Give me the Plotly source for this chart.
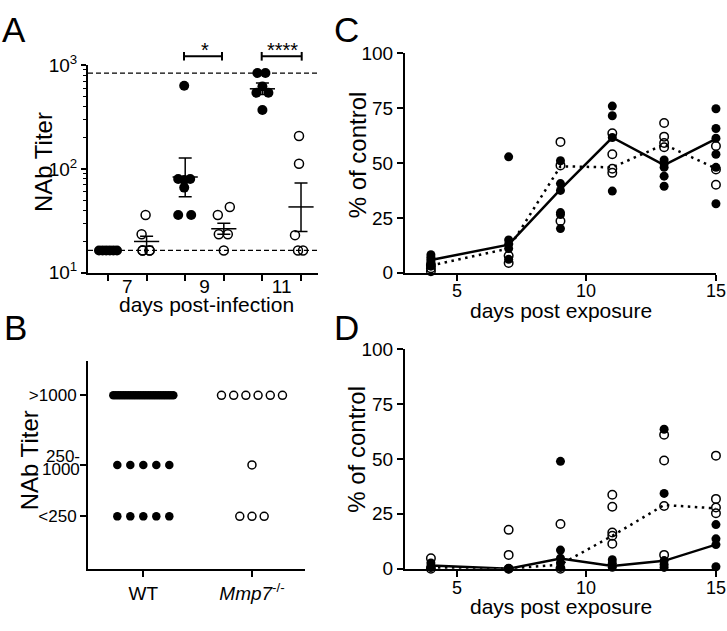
import plotly.graph_objects as go

W, H = 727, 631
FONT = "Liberation Sans, Arial, sans-serif"

# ---------------- DATA ----------------
# Panel A: NAb titer (log) by day; WT = filled, Mmp7-/- = open
A_day_labels = ["7", "9", "11"]
A_wt_d7 = [16.4, 16.4, 16.4, 16.4, 16.4, 16.4]
A_ko_d7 = [36, 23.5, 16.4, 16.4, 16.4, 16.4]
A_wt_d9 = [630, 80, 80, 78, 66, 36, 36]
A_ko_d9 = [36, 43, 23.5, 23.5, 16.4]
A_wt_d11 = [836, 836, 620, 540, 540, 369]
A_ko_d11 = [207, 112, 23, 16.4, 16.4]
A_center = [16.4, 20, 83.5, 26.5, 590, 43]
A_upper = [16.4, 22.5, 127, 30, 670, 73]
A_lower = [16.4, 18, 54, 23.5, 520, 25]
A_limits = [16.4, 836]
A_sig = ["*", "****"]

# Panel B: NAb titer categories, counts of animals
B_levels = [">1000", "250-1000", "<250"]
B_groups = ["WT", "Mmp7-/-"]
B_wt_counts = [25, 5, 5]
B_ko_counts = [6, 1, 3]

# Panels C & D: % of control by day post exposure
days = [4, 7, 9, 11, 13, 15]
day_ticks = [5, 10, 15]
C_wt = [[8.2, 7, 6, 5, 4, 3], [52.8, 14.9, 13, 11, 6.1], [51, 40.6, 37.5, 27.4, 26.5, 20.1],
        [75.9, 71.5, 61.6, 37.2], [51.4, 49.6, 48, 44, 39.4], [74.7, 65.7, 61.3, 54, 48, 31.4]]
C_ko = [[0.7, 2, 3.5], [7.7, 4.4], [59.6, 48.9, 23.6],
        [63.5, 54, 47.4, 45.5], [68.2, 62, 59.1, 57.2], [57.7, 47, 40.1]]
C_wt_line = [5.8, 12.8, 38, 61.6, 49, 61]
C_ko_line = [3.3, 11, 48.5, 48, 58.4, 47.5]

D_wt = [[2.6, 1.2, 0.5], [0, 0], [48.9, 8.5, 4.8, 2.6, 0.5],
        [4.1, 2.5, 0.7], [63.5, 34.3, 3.7, 1.9, 0.6], [20.1, 13.6, 11, 0.9]]
D_ko = [[4.8, 0], [17.7, 6.3, 0], [20.4, 0],
        [33.7, 28.2, 16.5, 15, 11.4], [61, 49.3, 28.6, 6.3], [51.5, 31.8, 27.9, 25.3]]
D_wt_line = [1.5, 0, 4.7, 1.2, 3.6, 11]
D_ko_line = [0.5, 0, 1.9, 15, 29, 27.5]

# ---------------- LAYOUT HELPERS ----------------
def fx(p):
    return p / W

def fy(p):
    return 1 - p / H

# horizontal jitter (pixels) of each point in panel A, per group
A_jit = [[-9, -5.4, -1.8, 1.8, 5.4, 9], [-1, -5, -4, 3, -4, 3], [-1, -7, 5, -1, -1, -7, 6],
         [-6, 6, -5, 4, 0], [-5, 3, 0, -6, 6, 0], [-2, -2, -6, -3, 2]]
A_PX_PER_UNIT = 38.6
B_PX_PER_UNIT = 108.7
B_level_pos = [0.835, 0.5, 0.253]
CD_X0, CD_X1 = 405, 716   # pixel extent of the C / D x axes (day 3 .. day 15)

FILLED = dict(color="black", size=10, symbol="circle", line=dict(width=0))
OPEN = dict(color="black", size=9, symbol="circle-open", line=dict(width=1.5, color="black"))

fig = go.Figure()

# ---- Panel A ----
A_groups = [A_wt_d7, A_ko_d7, A_wt_d9, A_ko_d9, A_wt_d11, A_ko_d11]
for gi, vals in enumerate(A_groups):
    xs = [gi + j / A_PX_PER_UNIT for j in A_jit[gi][:len(vals)]]
    fig.add_trace(go.Scatter(x=xs, y=vals, mode="markers", xaxis="x", yaxis="y",
                             marker=FILLED if gi % 2 == 0 else OPEN, cliponaxis=False,
                             showlegend=False, hoverinfo="skip"))
fig.add_trace(go.Scatter(
    x=list(range(6)), y=A_center, mode="markers", xaxis="x", yaxis="y", cliponaxis=False,
    marker=dict(symbol="line-ew", size=18, color="black", line=dict(width=1.5, color="black")),
    error_y=dict(type="data", symmetric=False,
                 array=[u - c for u, c in zip(A_upper, A_center)],
                 arrayminus=[c - l for c, l in zip(A_center, A_lower)],
                 color="black", thickness=1.5, width=6.5),
    showlegend=False, hoverinfo="skip"))
for v in A_limits:
    fig.add_trace(go.Scatter(x=[-0.518, 5.44], y=[v, v], mode="lines", xaxis="x", yaxis="y",
                             line=dict(color="black", width=1.2, dash="5px,3px"),
                             showlegend=False, hoverinfo="skip"))

# ---- Panel B ----
def spread(n, center, max_step, width):
    step = max_step if n < 2 else min(max_step, width / (n - 1))
    return [center + (i - (n - 1) / 2) * step / B_PX_PER_UNIT for i in range(n)]

for li, n in enumerate(B_wt_counts):
    fig.add_trace(go.Scatter(x=spread(n, 0, 13, 60), y=[B_level_pos[li]] * n, mode="markers",
                             xaxis="x2", yaxis="y2", cliponaxis=False,
                             marker=dict(color="black", size=8.5, symbol="circle"),
                             showlegend=False, hoverinfo="skip"))
for li, n in enumerate(B_ko_counts):
    fig.add_trace(go.Scatter(x=spread(n, 1, 12.2, 62), y=[B_level_pos[li]] * n, mode="markers",
                             xaxis="x2", yaxis="y2", cliponaxis=False,
                             marker=dict(color="black", size=8, symbol="circle-open",
                                         line=dict(width=1.5, color="black")),
                             showlegend=False, hoverinfo="skip"))

# ---- Panels C & D ----
for (wt, ko, wl, kl, xa, ya) in [(C_wt, C_ko, C_wt_line, C_ko_line, "x3", "y3"),
                                  (D_wt, D_ko, D_wt_line, D_ko_line, "x4", "y4")]:
    fig.add_trace(go.Scatter(x=days, y=kl, mode="lines", xaxis=xa, yaxis=ya,
                             line=dict(color="black", width=2.5, dash="2.5px,4.5px"),
                             showlegend=False, hoverinfo="skip"))
    fig.add_trace(go.Scatter(x=days, y=wl, mode="lines", xaxis=xa, yaxis=ya,
                             line=dict(color="black", width=2.5),
                             showlegend=False, hoverinfo="skip"))
    xs, ys = [], []
    for d, vals in zip(days, wt):
        xs += [d] * len(vals)
        ys += vals
    fig.add_trace(go.Scatter(x=xs, y=ys, mode="markers", xaxis=xa, yaxis=ya, cliponaxis=False,
                             marker=dict(color="black", size=9, symbol="circle"),
                             showlegend=False, hoverinfo="skip"))
    xs, ys = [], []
    for d, vals in zip(days, ko):
        xs += [d] * len(vals)
        ys += vals
    fig.add_trace(go.Scatter(x=xs, y=ys, mode="markers", xaxis=xa, yaxis=ya, cliponaxis=False,
                             marker=dict(color="black", size=8.5, symbol="circle-open",
                                         line=dict(width=1.5, color="black")),
                             showlegend=False, hoverinfo="skip"))

# ---------------- AXES ----------------
TF = dict(family=FONT, size=19, color="black")
base = dict(showline=True, linecolor="black", linewidth=2, ticks="outside", tickcolor="black",
            tickwidth=2, ticklen=6, showgrid=False, zeroline=False, tickfont=TF,
            layer="below traces", fixedrange=True)

minor_log = [m * 10 ** e for e in (1, 2) for m in range(2, 10)]
CD_X = [fx(CD_X0), fx(CD_X1)]

fig.update_layout(
    width=W, height=H, margin=dict(l=0, r=0, t=0, b=0),
    paper_bgcolor="white", plot_bgcolor="white", showlegend=False,
    xaxis=dict(base, domain=[fx(88), fx(318)], range=[-0.518, 5.44], anchor="y",
               tickmode="array", tickvals=[0.5, 2.5, 4.5], ticktext=A_day_labels, ticks="",
               ticklabelstandoff=-5,
               minor=dict(tickmode="array", tickvals=[0, 1, 2, 3, 4, 5], ticks="outside",
                          ticklen=6, tickwidth=2, tickcolor="black")),
    yaxis=dict(base, type="log", domain=[fy(270), fy(54)], range=[1, 3.0005], anchor="x",
               tickmode="array", tickvals=[10, 100, 1000],
               ticktext=["10<sup>1</sup>", "10<sup>2</sup>", "10<sup>3</sup>"], ticklen=5,
               minor=dict(tickmode="array", tickvals=minor_log, ticks="outside",
                          ticklen=3, tickwidth=1, tickcolor="black")),
    xaxis2=dict(base, domain=[fx(88), fx(305)], range=[-0.509, 1.488], anchor="y2",
                tickmode="array", tickvals=[0, 1],
                ticktext=["WT", "<i>Mmp7</i><sup>-/-</sup>"]),
    yaxis2=dict(base, domain=[fy(578), fy(361.7)], range=[0, 1], anchor="x2",
                tickmode="array", tickvals=B_level_pos, ticktext=[">1000", "", "<250"],
                tickfont=dict(family=FONT, size=17, color="black")),
    xaxis3=dict(base, domain=CD_X, range=[3, 15.002], anchor="y3",
                tickmode="array", tickvals=day_ticks, showticklabels=False),
    yaxis3=dict(base, domain=[fy(270), fy(41.7)], range=[0, 100.05], anchor="x3",
                tickmode="array", tickvals=[0, 25, 50, 75, 100]),
    xaxis4=dict(base, domain=CD_X, range=[3, 15.002], anchor="y4",
                tickmode="array", tickvals=day_ticks, showticklabels=False),
    yaxis4=dict(base, domain=[fy(577.7), fy(349.3)], range=[0, 100.05], anchor="x4",
                tickmode="array", tickvals=[0, 25, 50, 75, 100]),
)

# ---------------- SHAPES (significance brackets) ----------------
shapes = []
for (x0, x1) in [(184, 222), (261.7, 301.7)]:
    shapes.append(dict(type="line", xref="paper", yref="paper", x0=fx(x0), x1=fx(x1),
                       y0=fy(45), y1=fy(45), line=dict(color="black", width=2)))
    for xx in (x0, x1):
        shapes.append(dict(type="line", xref="paper", yref="paper", x0=fx(xx), x1=fx(xx),
                           y0=fy(40.5), y1=fy(49.5), line=dict(color="black", width=2)))
fig.update_layout(shapes=shapes)

# ---------------- ANNOTATIONS ----------------
def ann(text, x, y, size, angle=0, xanchor="center"):
    return dict(text=text, x=fx(x), y=fy(y), xref="paper", yref="paper", showarrow=False,
                xanchor=xanchor, yanchor="middle", textangle=angle,
                font=dict(family=FONT, size=size, color="black"))

anns = [
    ann("A", 13.5, 17.5, 35), ann("B", 15, 326.5, 35),
    ann("C", 346.5, 17.5, 35), ann("D", 346.5, 326.5, 35),
    ann("NAb Titer", 43, 155, 24, -90),
    ann("days post-infection", 206.5, 303, 21),
    ann("NAb Titer", 29, 465, 24, -90),
    ann("% of control", 357, 148, 24, -90),
    ann("days post exposure", 561, 309, 21),
    ann("% of control", 357, 454, 24, -90),
    ann("days post exposure", 561, 616.5, 21),
    ann(A_sig[0], 205, 38, 20), ann(A_sig[1], 282, 38, 20),
    ann("250-", 82, 461, 17, xanchor="right"),
    ann("1000", 82, 475, 17, xanchor="right"),
]
# x tick labels of C and D, placed on the axis scale (day -> pixel)
for d in day_ticks:
    xpx = CD_X0 + (d - 3) / 12.002 * (CD_X1 - CD_X0)
    for ypx in (289, 598):
        a = dict(text=str(d), x=d, y=fy(ypx), xref="x3", yref="paper", showarrow=False,
                 xanchor="center", yanchor="middle",
                 font=dict(family=FONT, size=18, color="black"))
        anns.append(a)
fig.update_layout(annotations=anns)

fig.write_html(
    "out.html", config={"displayModeBar": False},
    post_script="document.body.style.margin='0';document.body.style.overflow='hidden';"
                "document.documentElement.style.overflow='hidden';")
